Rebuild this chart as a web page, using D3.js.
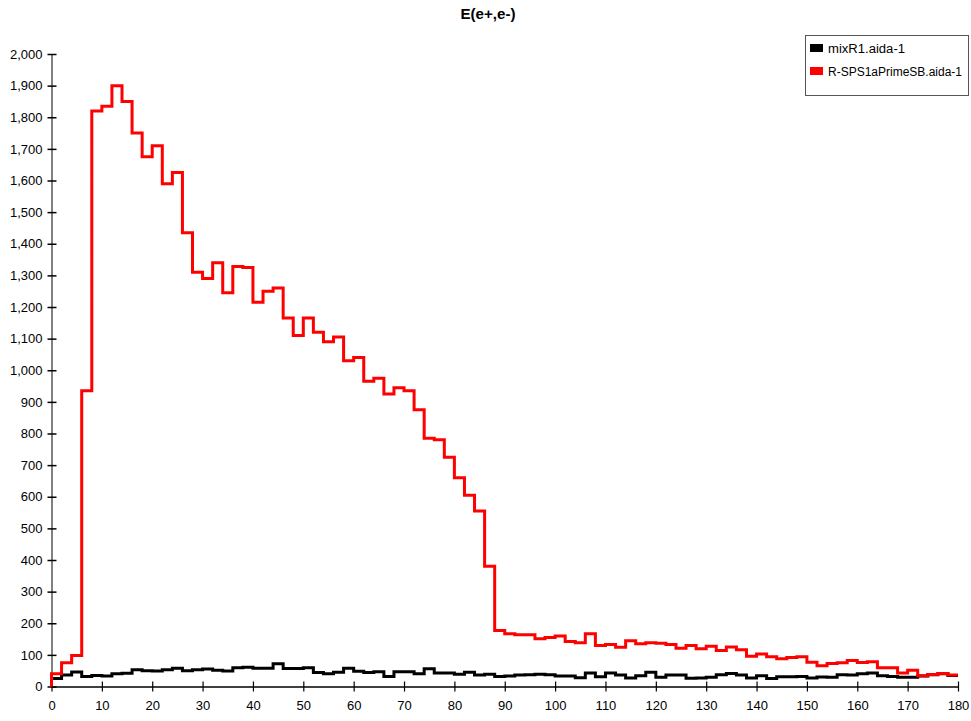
<!DOCTYPE html>
<html><head><meta charset="utf-8">
<script src="https://cdn.jsdelivr.net/npm/d3@7"></script>
<style>body{margin:0;background:#fff}svg{display:block}</style>
</head><body>
<svg id="c" width="971" height="721"></svg>
<script>
const title = "E(e+,e-)";
const seriesNames = ["mixR1.aida-1", "R-SPS1aPrimeSB.aida-1"];
const seriesColors = ["#000000", "#ff0000"];
const binEdgeStart = 0, binWidth = 2;
const xTicks = [0,10,20,30,40,50,60,70,80,90,100,110,120,130,140,150,160,170,180];
const yTicks = [0,100,200,300,400,500,600,700,800,900,1000,1100,1200,1300,1400,1500,1600,1700,1800,1900,2000];
const blackValues = [25,36,46,32,35,33,40,42,53,50,49,53,58,50,53,55,51,49,59,61,
  58,58,72,57,57,59,44,40,45,58,48,44,47,32,47,47,40,56,43,43,
  39,45,36,39,32,33,36,37,39,37,33,33,28,43,31,43,36,27,34,45,
  29,36,36,26,27,29,37,41,36,27,34,25,31,31,32,27,30,29,37,36,
  40,43,34,32,29,29,33,37,40,35];
const redValues = [40,75,98,935,1820,1835,1900,1850,1750,1675,1710,1590,1625,1435,1310,1290,1340,1245,1328,1325,
  1215,1250,1260,1165,1110,1165,1120,1090,1105,1030,1040,965,975,925,945,935,875,785,780,725,
  660,605,555,380,177,167,164,164,151,155,160,142,138,167,130,133,124,145,135,138,
  137,133,121,130,119,127,114,125,116,96,103,94,88,92,94,77,66,73,75,82,
  76,78,59,59,43,51,34,38,41,36];

const svg = d3.select("#c");
const x = d3.scaleLinear().domain([0,180]).range([51.5,958]);
const y = d3.scaleLinear().domain([0,2000]).range([686.5,54]);
const font = "'Liberation Sans', Arial, sans-serif";

svg.append("text").attr("x",488).attr("y",19).attr("text-anchor","middle")
  .attr("font-family",font).attr("font-weight","bold").attr("font-size",15)
  .attr("textLength",55).attr("lengthAdjust","spacingAndGlyphs")
  .text(title);

// Y axis
const yAxis = svg.append("g").attr("transform","translate(51.5,0)")
  .call(d3.axisLeft(y).tickValues(yTicks).tickSize(0).tickPadding(9).tickFormat(d3.format(",")));
yAxis.select(".domain").attr("stroke","#808080").attr("stroke-width",2);
yAxis.selectAll(".tick text").attr("font-family",font).attr("font-size",13).attr("fill","#000");
yAxis.selectAll(".tick").append("line").attr("x1",-4).attr("x2",5).attr("stroke","#000").attr("stroke-width",1.5);

// X axis
const xAxis = svg.append("g").attr("transform","translate(0,686.5)")
  .call(d3.axisBottom(x).tickValues(xTicks).tickSize(0).tickPadding(14));
xAxis.select(".domain").attr("stroke","#000").attr("stroke-width",1.5);
xAxis.selectAll(".tick text").attr("font-family",font).attr("font-size",13).attr("fill","#000");
xAxis.selectAll(".tick").append("line").attr("y1",-5).attr("y2",5).attr("stroke","#000").attr("stroke-width",1.2);

function stepPoints(vals){
  const pts = [[binEdgeStart,0]];
  vals.forEach((v,i)=>{ pts.push([binEdgeStart+i*binWidth, v]); pts.push([binEdgeStart+(i+1)*binWidth, v]); });
  return pts;
}
const line = d3.line().x(d=>x(d[0])).y(d=>y(d[1]));
[blackValues, redValues].forEach((vals,i)=>{
  svg.append("path").attr("d", line(stepPoints(vals))).attr("fill","none")
    .attr("stroke", seriesColors[i]).attr("stroke-width",3).attr("stroke-linejoin","miter");
});

// Legend
const legendLengths = [77, 134];
const lg = svg.append("g");
lg.append("rect").attr("x",805.5).attr("y",35.5).attr("width",163).attr("height",60)
  .attr("fill","#fff").attr("stroke","#555").attr("stroke-width",1);
seriesNames.forEach((n,i)=>{
  lg.append("rect").attr("x",810).attr("y",44+i*23).attr("width",13).attr("height",8).attr("fill",seriesColors[i]);
  lg.append("text").attr("x",828).attr("y",53+i*23).attr("font-family",font).attr("font-size",12.5)
    .attr("textLength",legendLengths[i]).attr("lengthAdjust","spacingAndGlyphs")
    .attr("fill","#000").text(n);
});
</script>
</body></html>
